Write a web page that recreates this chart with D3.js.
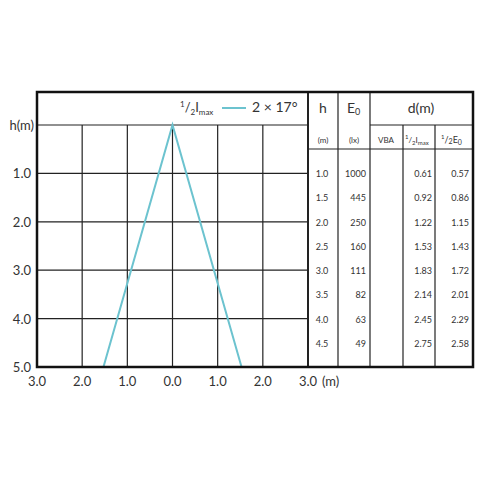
<!DOCTYPE html>
<html><head><meta charset="utf-8">
<script src="https://cdn.jsdelivr.net/npm/d3@7"></script>
<style>body{margin:0;background:#fff}text{font-family:Lato,"Open Sans",sans-serif;fill:#333}</style>
</head><body><svg id="c" width="480" height="480"></svg>
<script>
var xTicks = [-3, -2, -1, 0, 1, 2, 3],
    yTicks = [1, 2, 3, 4, 5],
    beamHalfAngle = 17,
    heights = ['1.0','1.5','2.0','2.5','3.0','3.5','4.0','4.5'],
    e0 = [1000, 445, 250, 160, 111, 82, 63, 49],
    dHalfImax = ['0.61','0.92','1.22','1.53','1.83','2.14','2.45','2.75'],
    dHalfE0 = ['0.57','0.86','1.15','1.43','1.72','2.01','2.29','2.58'];

var svg = d3.select('#c'),
    L = 37, R = 308, T = 125, B = 367, boxTop = 92, boxRight = 473;
var x = d3.scaleLinear().domain([-3, 3]).range([L, R]),
    y = d3.scaleLinear().domain([0, 5]).range([T, B]);

// grid
svg.selectAll('.vg').data(xTicks).enter().append('line')
    .attr('x1', d => x(d)).attr('x2', d => x(d)).attr('y1', T).attr('y2', B)
    .attr('stroke', '#222').attr('stroke-width', 1.2);
svg.selectAll('.hg').data([0].concat(yTicks.slice(0, 4))).enter().append('line')
    .attr('x1', L).attr('x2', R).attr('y1', d => y(d)).attr('y2', d => y(d))
    .attr('stroke', '#222').attr('stroke-width', 1.2);

// beam
var t = Math.tan(beamHalfAngle * Math.PI / 180);
svg.append('path')
    .attr('d', d3.line()([[x(-t * 5), y(5)], [x(0), y(0)], [x(t * 5), y(5)]]))
    .attr('fill', 'none').attr('stroke', '#6cc3cf').attr('stroke-width', 2);

// axes labels
svg.selectAll('.xl').data(xTicks).enter().append('text')
    .attr('x', d => x(d)).attr('y', 386).attr('text-anchor', 'middle').attr('font-size', 13)
    .text(d => Math.abs(d).toFixed(1));
svg.append('text').attr('x', x(3) + 14).attr('y', 386).attr('font-size', 13).text('(m)');
svg.selectAll('.yl').data(yTicks).enter().append('text')
    .attr('x', 31).attr('y', d => y(d) + 5).attr('text-anchor', 'end').attr('font-size', 13)
    .text(d => d.toFixed(1));
svg.append('text').attr('x', 34).attr('y', 130).attr('text-anchor', 'end').attr('font-size', 13).text('h(m)');

// legend
var lg = svg.append('text').attr('x', 180).attr('y', 112).attr('font-size', 13);
lg.append('tspan').attr('font-size', 8).attr('dy', -5).text('1');
lg.append('tspan').attr('dy', 5).text('/');
lg.append('tspan').attr('font-size', 8).attr('dy', 3).text('2');
lg.append('tspan').attr('dy', -3).text('I');
lg.append('tspan').attr('font-size', 8).attr('dy', 3).text('max');
svg.append('line').attr('x1', 222).attr('x2', 246).attr('y1', 108).attr('y2', 108)
    .attr('stroke', '#6cc3cf').attr('stroke-width', 2);
svg.append('text').attr('x', 252).attr('y', 112).attr('font-size', 14).text('2 × 17°');

// table lines
svg.selectAll('.tc').data([338, 370]).enter().append('line')
    .attr('x1', d => d).attr('x2', d => d).attr('y1', boxTop).attr('y2', B)
    .attr('stroke', '#222').attr('stroke-width', 1.2);
svg.selectAll('.tc2').data([403, 435]).enter().append('line')
    .attr('x1', d => d).attr('x2', d => d).attr('y1', T).attr('y2', B)
    .attr('stroke', '#222').attr('stroke-width', 1.2);
svg.append('line').attr('x1', 370).attr('x2', boxRight).attr('y1', T).attr('y2', T).attr('stroke', '#222').attr('stroke-width', 1.2);
svg.append('line').attr('x1', R).attr('x2', boxRight).attr('y1', 149).attr('y2', 149).attr('stroke', '#222').attr('stroke-width', 1.2);
svg.append('line').attr('x1', R).attr('x2', R).attr('y1', boxTop).attr('y2', B).attr('stroke', '#222').attr('stroke-width', 2);

// box
svg.append('rect').attr('x', L).attr('y', boxTop).attr('width', boxRight - L).attr('height', B - boxTop)
    .attr('fill', 'none').attr('stroke', '#111').attr('stroke-width', 2.5);

// headers
svg.append('text').attr('x', 323).attr('y', 113).attr('text-anchor', 'middle').attr('font-size', 14).text('h');
var e = svg.append('text').attr('x', 347).attr('y', 113).attr('font-size', 14);
e.append('tspan').text('E'); e.append('tspan').attr('font-size', 9).attr('dy', 2).text('0');
svg.append('text').attr('x', 421).attr('y', 113).attr('text-anchor', 'middle').attr('font-size', 14).text('d(m)');
svg.append('text').attr('x', 323).attr('y', 143).attr('text-anchor', 'middle').attr('font-size', 8).text('(m)');
svg.append('text').attr('x', 354).attr('y', 143).attr('text-anchor', 'middle').attr('font-size', 8).text('(lx)');
svg.append('text').attr('x', 386).attr('y', 143).attr('text-anchor', 'middle').attr('font-size', 8).text('VBA');
var h1 = svg.append('text').attr('x', 405).attr('y', 143).attr('font-size', 8);
h1.append('tspan').attr('font-size', 6).attr('dy', -4).text('1');
h1.append('tspan').attr('dy', 4).text('/');
h1.append('tspan').attr('font-size', 6).attr('dy', 2).text('2');
h1.append('tspan').attr('dy', -2).text('I');
h1.append('tspan').attr('font-size', 6).attr('dy', 2).text('max');
var h2 = svg.append('text').attr('x', 441).attr('y', 143).attr('font-size', 9);
h2.append('tspan').attr('font-size', 6).attr('dy', -4).text('1');
h2.append('tspan').attr('dy', 4).text('/');
h2.append('tspan').attr('font-size', 7).attr('dy', 1).text('2');
h2.append('tspan').attr('dy', -1).text('E');
h2.append('tspan').attr('font-size', 7).attr('dy', 2).text('0');

// rows
var ry = d3.scaleLinear().domain([0, 7]).range([177, 347]);
var cells = [[heights, 322, 'middle'], [e0, 366, 'end'], [dHalfImax, 432, 'end'], [dHalfE0, 469, 'end']];
cells.forEach(function(c) {
    svg.selectAll(null).data(c[0]).enter().append('text')
        .attr('x', c[1]).attr('y', (d, i) => ry(i)).attr('text-anchor', c[2]).attr('font-size', 9)
        .attr('fill', '#444').text(d => d);
});
</script></body></html>
